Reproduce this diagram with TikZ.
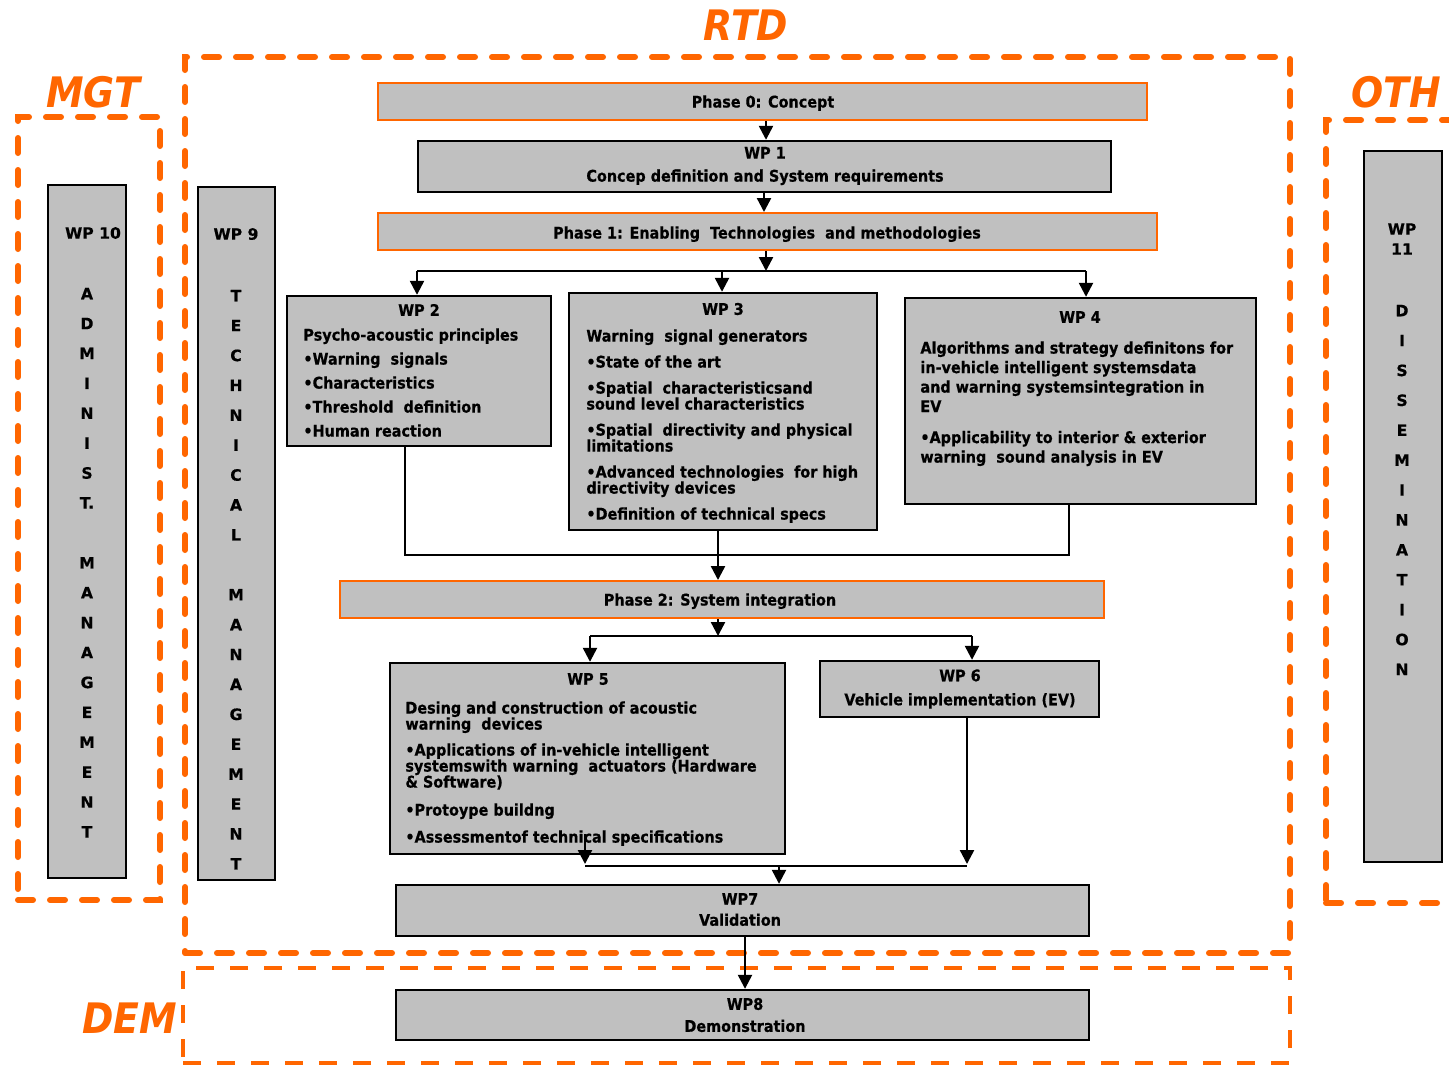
\documentclass[tikz,border=0pt]{standalone}
\usepackage{fontspec}
\setmainfont{DejaVu Sans}[FakeStretch=0.9, BoldFeatures={FakeBold=0.6}]
\newfontfamily\letterfont{DejaVu Sans}[BoldFeatures={FakeBold=0.6}]
\usetikzlibrary{arrows.meta,fit}
\definecolor{org}{RGB}{255,102,0}
\definecolor{boxgray}{RGB}{192,192,192}
\tikzset{
  wpbox/.style={draw=black, line width=1.2pt, fill=boxgray, inner sep=0pt},
  phbox/.style={draw=org, line width=1pt, fill=boxgray, inner sep=0pt},
  txt/.style={font={\bfseries\fontsize{8}{8}\selectfont}, inner sep=0pt},
  vtxt/.style={font={\letterfont\bfseries\fontsize{7.8}{14.95}\selectfont}, inner sep=0pt, align=center},
  biglbl/.style={text=org, font={\bfseries\itshape\fontsize{21}{21}\selectfont}, inner sep=0pt},
  dashbox/.style={draw=org, line width=3pt, line cap=round, dash pattern=on 7.5pt off 8.5pt, inner sep=0pt},
  dembox/.style={draw=org, line width=2pt, dash pattern=on 9pt off 8pt, inner sep=0pt},
  conn/.style={line width=1.2pt},
  arr/.style={conn, -{Triangle[length=7pt,width=7pt]}}
}
\begin{document}
\begin{tikzpicture}[x=0.5pt,y=-0.5pt]
\clip (0,0) rectangle (1449,1066);
\fill[white] (0,0) rectangle (1449,1066);

% group frames
\node[dashbox, fit={(18,117) (160,900)}] (mgt) {};
\node[dashbox, fit={(185,57) (1290,953)}] (rtd) {};
\node[dashbox, fit={(1326,120) (1480,903)}] (oth) {};
\node[dembox, fit={(183,968) (1290,1063)}] (dem) {};

\node[biglbl] (mgtl) at (93,92) {MGT};
\node[biglbl] (rtdl) at (746,25) {RTD};
\node[biglbl] (othl) at (1396,92) {OTH};
\node[biglbl] (deml) at (130,1018) {DEM};

% side columns
\node[wpbox, fit={(48,185) (126,878)}] (wp10) {};
\node[vtxt] (wp10h) at (93,233) {WP 10};
\node[vtxt, anchor=north] (wp10t) at (87,287.5) {A\\D\\M\\I\\N\\I\\S\\T.\\[15pt]M\\A\\N\\A\\G\\E\\M\\E\\N\\T};

\node[wpbox, fit={(198,187) (275,880)}] (wp9) {};
\node[vtxt] (wp9h) at (236,234) {WP 9};
\node[vtxt, anchor=north] (wp9t) at (236,289.5) {T\\E\\C\\H\\N\\I\\C\\A\\L\\[15pt]M\\A\\N\\A\\G\\E\\M\\E\\N\\T};

\node[wpbox, fit={(1364,151) (1442,862)}] (wp11) {};
\node[vtxt, font={\letterfont\bfseries\fontsize{7.8}{10}\selectfont}] (wp11h) at (1402,239) {WP\\11};
\node[vtxt, anchor=north] (wp11t) at (1402,304.5) {D\\I\\S\\S\\E\\M\\I\\N\\A\\T\\I\\O\\N};

% phases and work packages
\node[phbox, fit={(378,83) (1147,120)}] (ph0) {};
\node[txt, anchor=base] (ph0t) at (763,107.5) {Phase 0: Concept};

\node[wpbox, fit={(418,141) (1111,192)}] (wp1) {};
\node[txt, align=center, font={\bfseries\fontsize{8}{11.5}\selectfont}] (wp1t) at (765,166) {WP 1\\Concep definition and System requirements};

\node[phbox, fit={(378,213) (1157,250)}] (ph1) {};
\node[txt, anchor=base] (ph1t) at (767,238.5) {Phase 1: Enabling\ \ Technologies\ \ and methodologies};

\node[wpbox, fit={(287,296) (551,446)}] (wp2) {};
\node[txt] (wp2h) at (419,310) {WP 2};
\node[txt, anchor=north west, align=left] (wp2b) at (303,328) {Psycho-acoustic principles\\[4pt]•Warning\ \ signals\\[4pt]•Characteristics\\[4pt]•Threshold\ \ definition\\[4pt]•Human reaction};

\node[wpbox, fit={(569,293) (877,530)}] (wp3) {};
\node[txt] (wp3h) at (723,309) {WP 3};
\node[txt, anchor=north west, align=left] (wp3b) at (586,329) {Warning\ \ signal generators\\[5pt]•State of the art\\[5pt]•Spatial\ \ characteristicsand\\sound level characteristics\\[5pt]•Spatial\ \ directivity and physical\\limitations\\[5pt]•Advanced technologies\ \ for high\\directivity devices\\[5pt]•Definition of technical specs};

\node[wpbox, fit={(905,298) (1256,504)}] (wp4) {};
\node[txt] (wp4h) at (1080,317) {WP 4};
\node[txt, anchor=north west, align=left, font={\bfseries\fontsize{8}{9.75}\selectfont}] (wp4b) at (920,341) {Algorithms and strategy definitons for\\in-vehicle intelligent systemsdata\\and warning systemsintegration in\\EV\\[5.75pt]•Applicability to interior \& exterior\\warning\ \ sound analysis in EV};

\node[phbox, fit={(340,581) (1104,618)}] (ph2) {};
\node[txt, anchor=base] (ph2t) at (720,605.5) {Phase 2: System integration};

\node[wpbox, fit={(390,663) (785,854)}] (wp5) {};
\node[txt] (wp5h) at (588,679) {WP 5};
\node[txt, anchor=north west, align=left] (wp5b) at (405,701) {Desing and construction of acoustic\\warning\ \ devices\\[5pt]•Applications of in-vehicle intelligent\\systemswith warning\ \ actuators (Hardware\\\& Software)\\[6pt]•Protoype buildng\\[5.5pt]•Assessmentof technical specifications};

\node[wpbox, fit={(820,661) (1099,717)}] (wp6) {};
\node[txt, align=center, font={\bfseries\fontsize{8}{12}\selectfont}] (wp6t) at (960,689) {WP 6\\Vehicle implementation (EV)};

\node[wpbox, fit={(396,885) (1089,936)}] (wp7) {};
\node[txt, align=center, font={\bfseries\fontsize{8}{10.5}\selectfont}] (wp7t) at (740,909.5) {WP7\\Validation};

\node[wpbox, fit={(396,990) (1089,1040)}] (wp8) {};
\node[txt, align=center, font={\bfseries\fontsize{8}{11}\selectfont}] (wp8t) at (745,1015) {WP8\\Demonstration};

% junction points
\coordinate (j1) at (766,271);
\coordinate (j1l) at (417,271);
\coordinate (j1m) at (722,271);
\coordinate (j1r) at (1086,271);
\coordinate (m1l) at (405,555);
\coordinate (m1m) at (718,555);
\coordinate (m1r) at (1069,555);
\coordinate (j2) at (718,636);
\coordinate (j2l) at (590,636);
\coordinate (j2r) at (972,636);
\coordinate (w5o) at (585,834);
\coordinate (m3l) at (585,866);
\coordinate (m3c) at (779,866);
\coordinate (m3r) at (967,866);

% connectors
\draw[arr] (ph0.south -| 766,0) -- (wp1.north -| 766,0);
\draw[arr] (wp1.south -| 764,0) -- (ph1.north -| 764,0);
\draw[arr] (ph1.south -| j1) -- (j1);
\draw[conn] (j1l) -- (j1r);
\draw[arr] (j1l) -- (j1l |- wp2.north);
\draw[arr] (j1m) -- (j1m |- wp3.north);
\draw[arr] (j1r) -- (j1r |- wp4.north);

\draw[conn] (m1l |- wp2.south) -- (m1l) -- (m1r) -- (m1r |- wp4.south);
\draw[arr] (m1m |- wp3.south) -- (m1m |- ph2.north);

\draw[arr] (ph2.south -| j2) -- (j2);
\draw[conn] (j2l) -- (j2r);
\draw[arr] (j2l) -- (j2l |- wp5.north);
\draw[arr] (j2r) -- (j2r |- wp6.north);

\draw[arr] (w5o) -- ([yshift=1pt]m3l);
\draw[arr] (m3r |- wp6.south) -- ([yshift=1pt]m3r);
\draw[conn] (m3l) -- (m3r);
\draw[arr] (m3c) -- (m3c |- wp7.north);

\draw[arr] (wp7.south -| 745,0) -- (wp8.north -| 745,0);
\end{tikzpicture}
\end{document}
